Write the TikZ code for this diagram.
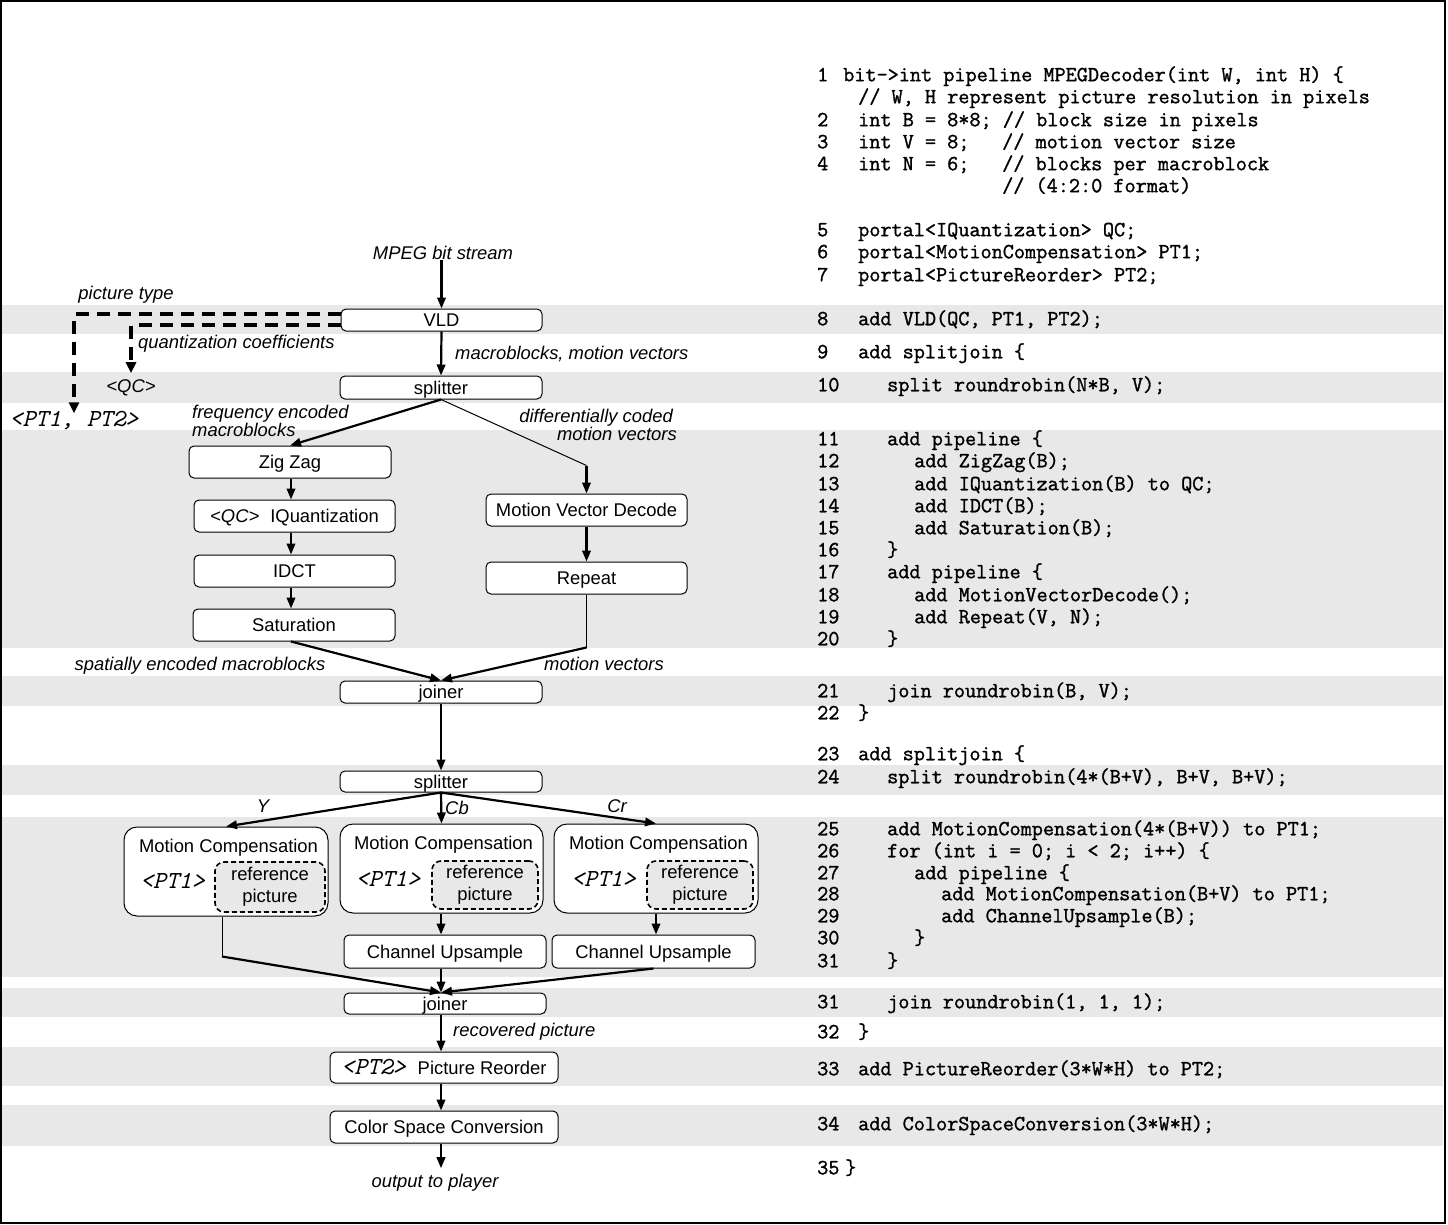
\documentclass[tikz,border=0pt]{standalone}
\usepackage{fontspec}
\setmainfont{Liberation Sans}
\newfontfamily\codefont{Latin Modern Mono}[FakeBold=1.3]
\usetikzlibrary{arrows.meta,calc}

\definecolor{band}{gray}{0.91}
\newcommand{\nf}{\fontsize{18.4}{22}\selectfont}
\newcommand{\cf}{\codefont\fontsize{21.6}{22}\selectfont}
\newcommand{\portal}{\ttfamily\itshape\fontsize{24.5}{24}\selectfont}

\tikzset{
  txt/.style={font=\nf, inner sep=0pt, text height=13.2pt, text depth=0pt},
  lbl/.style={txt, font=\nf\itshape},
  blk/.style={draw, line width=1pt, fill=white, rounded corners=5pt, inner sep=0pt,
              text height=13.2pt, text depth=0pt, font=\nf},
  mcbox/.style={draw, line width=1pt, fill=white, rounded corners=13pt, inner sep=0pt},
  refbox/.style={draw, line width=1.6pt, dash pattern=on 5pt off 3pt, fill=band,
                 rounded corners=9pt, inner sep=0pt, align=center, font=\nf},
  portaltxt/.style={inner sep=0pt, font=\portal, text height=13pt, text depth=0pt},
  code/.style={anchor=west, inner sep=0pt, font=\cf, text height=12.5pt, text depth=0pt},
  lno/.style={code},
  arr/.style={line width=2.2pt, -{Triangle[length=11pt,width=8.5pt]}},
  plain/.style={line width=1pt},
  ctl/.style={line width=4pt, dash pattern=on 13pt off 8pt,
              -{Triangle[length=11pt,width=10pt]}},
}

\begin{document}
\begin{tikzpicture}[x=1pt,y=-1pt]
\useasboundingbox (0,0) rectangle (1448,1225);

% shaded rows pairing each stage with its source line
\foreach \a/\b in {305/334, 372/403, 430/648, 676/706, 765/795, 817/977, 988/1017, 1047/1086, 1105/1146}
  \fill[band] (2,\a) rectangle (1443,\b);

% ---------------- source listing ----------------
\node[lno] (n1) at (817,75) {1};
\node[code] (l1) at (843,75) {bit->int pipeline MPEGDecoder(int W, int H) \{};
\node[code] (l1b) at (858,97) {// W, H represent picture resolution in pixels};
\node[lno] (n2) at (817,120) {2};
\node[code] (l2) at (858,120) {int B = 8*8; // block size in pixels};
\node[lno] (n3) at (817,142) {3};
\node[code] (l3) at (858,142) {int V = 8;};
\node[code] (l3c) at (1002,142) {// motion vector size};
\node[lno] (n4) at (817,164) {4};
\node[code] (l4) at (858,164) {int N = 6;};
\node[code] (l4c) at (1002,164) {// blocks per macroblock};
\node[code] (l4d) at (1002,186) {// (4:2:0 format)};
\node[lno] (n5) at (817,230) {5};
\node[code] (l5) at (858,230) {portal<IQuantization> QC;};
\node[lno] (n6) at (817,252) {6};
\node[code] (l6) at (858,252) {portal<MotionCompensation> PT1;};
\node[lno] (n7) at (817,275) {7};
\node[code] (l7) at (858,275) {portal<PictureReorder> PT2;};
\node[lno] (n8) at (817,319) {8};
\node[code] (l8) at (858,319) {add VLD(QC, PT1, PT2);};
\node[lno] (n9) at (817,352) {9};
\node[code] (l9) at (858,352) {add splitjoin \{};
\node[lno] (n10) at (817,385) {10};
\node[code] (l10) at (887,385) {split roundrobin(N*B, V);};
\node[lno] (n11) at (817,439) {11};
\node[code] (l11) at (887,439) {add pipeline \{};
\node[lno] (n12) at (817,461) {12};
\node[code] (l12) at (914,461) {add ZigZag(B);};
\node[lno] (n13) at (817,484) {13};
\node[code] (l13) at (914,484) {add IQuantization(B) to QC;};
\node[lno] (n14) at (817,506) {14};
\node[code] (l14) at (914,506) {add IDCT(B);};
\node[lno] (n15) at (817,528) {15};
\node[code] (l15) at (914,528) {add Saturation(B);};
\node[lno] (n16) at (817,550) {16};
\node[code] (l16) at (887,550) {\}};
\node[lno] (n17) at (817,572) {17};
\node[code] (l17) at (887,572) {add pipeline \{};
\node[lno] (n18) at (817,595) {18};
\node[code] (l18) at (914,595) {add MotionVectorDecode();};
\node[lno] (n19) at (817,617) {19};
\node[code] (l19) at (914,617) {add Repeat(V, N);};
\node[lno] (n20) at (817,639) {20};
\node[code] (l20) at (887,639) {\}};
\node[lno] (n21) at (817,691) {21};
\node[code] (l21) at (887,691) {join roundrobin(B, V);};
\node[lno] (n22) at (817,713) {22};
\node[code] (l22) at (858,713) {\}};
\node[lno] (n23) at (817,754) {23};
\node[code] (l23) at (858,754) {add splitjoin \{};
\node[lno] (n24) at (817,777) {24};
\node[code] (l24) at (887,777) {split roundrobin(4*(B+V), B+V, B+V);};
\node[lno] (n25) at (817,829) {25};
\node[code] (l25) at (887,829) {add MotionCompensation(4*(B+V)) to PT1;};
\node[lno] (n26) at (817,851) {26};
\node[code] (l26) at (887,851) {for (int i = 0; i < 2; i++) \{};
\node[lno] (n27) at (817,873) {27};
\node[code] (l27) at (914,873) {add pipeline \{};
\node[lno] (n28) at (817,894) {28};
\node[code] (l28) at (941,894) {add MotionCompensation(B+V) to PT1;};
\node[lno] (n29) at (817,916) {29};
\node[code] (l29) at (941,916) {add ChannelUpsample(B);};
\node[lno] (n30) at (817,938) {30};
\node[code] (l30) at (914,938) {\}};
\node[lno] (n31) at (817,961) {31};
\node[code] (l31) at (887,961) {\}};
\node[lno] (n31b) at (817,1002) {31};
\node[code] (l31b) at (887,1002) {join roundrobin(1, 1, 1);};
\node[lno] (n32) at (817,1032) {32};
\node[code] (l32) at (858,1032) {\}};
\node[lno] (n33) at (817,1069) {33};
\node[code] (l33) at (858,1069) {add PictureReorder(3*W*H) to PT2;};
\node[lno] (n34) at (817,1124) {34};
\node[code] (l34) at (858,1124) {add ColorSpaceConversion(3*W*H);};
\node[lno] (n35) at (817,1168) {35};
\node[code] (l35) at (845,1168) {\}};

% ---------------- stream graph ----------------
\coordinate (axis) at (441,0);
\coordinate (axisL) at (291,0);

\node[lbl] (mpeg) at (443,253) {MPEG bit stream};
\node[blk, minimum width=201pt, minimum height=22pt] (vld) at (441.5,320) {VLD};
\node[blk, minimum width=202pt, minimum height=23pt] (split1) at (441,387.5) {splitter};

\node[blk, minimum width=202pt, minimum height=32pt] (zigzag) at (290,462) {Zig Zag};
\node[blk, minimum width=201pt, minimum height=32pt] (iquant) at (294.5,516)
  {{\itshape <QC>}\hspace{11pt}IQuantization};
\node[blk, minimum width=201pt, minimum height=32pt] (idct) at (294.5,571) {IDCT};
\node[blk, minimum width=202pt, minimum height=32pt] (sat) at (294,625) {Saturation};
\node[blk, minimum width=201pt, minimum height=32pt] (mvd) at (586.5,510) {Motion Vector Decode};
\node[blk, minimum width=201pt, minimum height=32pt] (rep) at (586.5,578) {Repeat};

\node[blk, minimum width=202pt, minimum height=22pt] (join1) at (441,692) {joiner};
\node[blk, minimum width=202pt, minimum height=21pt] (split2) at (441,781.5) {splitter};

\node[mcbox, minimum width=204pt, minimum height=89pt] (mc1) at (226,871.5) {};
\node[mcbox, minimum width=203pt, minimum height=89pt] (mc2) at (441.5,868.5) {};
\node[mcbox, minimum width=204pt, minimum height=89pt] (mc3) at (656,868.5) {};
\node[txt] (mc1t) at (228.5,846) {Motion Compensation};
\node[txt] (mc2t) at (443.5,843) {Motion Compensation};
\node[txt] (mc3t) at (658.5,843) {Motion Compensation};
\node[portaltxt] (mc1p) at (172.5,882) {<PT1>};
\node[portaltxt] (mc2p) at (388,880) {<PT1>};
\node[portaltxt] (mc3p) at (603.5,880) {<PT1>};
\node[refbox, minimum width=110pt, minimum height=50pt] (ref1) at (270,887) {reference\\picture};
\node[refbox, minimum width=106pt, minimum height=48pt] (ref2) at (485,885) {reference\\picture};
\node[refbox, minimum width=106pt, minimum height=48pt] (ref3) at (700,885) {reference\\picture};

\node[blk, minimum width=202pt, minimum height=33pt] (cu1) at (445,951.5) {Channel Upsample};
\node[blk, minimum width=203pt, minimum height=33pt] (cu2) at (653.5,951.5) {Channel Upsample};
\node[blk, minimum width=202pt, minimum height=21pt] (join2) at (445,1003.5) {joiner};
\node[blk, minimum width=228pt, minimum height=31pt] (pr) at (444,1067.5)
  {{\portal <PT2>}\hspace{12pt}Picture Reorder};
\node[blk, minimum width=228pt, minimum height=32pt] (csc) at (444,1127) {Color Space Conversion};
\node[lbl] (out) at (435,1181) {output to player};

% labels
\node[lbl] (ptype) at (126,293) {picture type};
\node[lbl, anchor=west] (qcoef) at (138,342) {quantization coefficients};
\node[lbl] (qc) at (131,386) {<QC>};
\node[portaltxt] (pt12) at (74,420) {<PT1, PT2>};
\node[lbl, anchor=west] (mbmv) at (455,353) {macroblocks, motion vectors};
\node[lbl, anchor=west] (fe1) at (192,412) {frequency encoded};
\node[lbl, anchor=west] (fe2) at (192,430) {macroblocks};
\node[lbl, anchor=east] (dc1) at (673,416) {differentially coded};
\node[lbl, anchor=east] (dc2) at (677,434) {motion vectors};
\node[lbl] (sem) at (200,664) {spatially encoded macroblocks};
\node[lbl] (mv) at (604,664) {motion vectors};
\node[lbl] (ly) at (263,806) {Y};
\node[lbl] (lcb) at (457,808) {Cb};
\node[lbl] (lcr) at (617,806) {Cr};
\node[lbl, anchor=west] (recp) at (453,1030) {recovered picture};

% connectors
\draw[arr] (mpeg.south -| vld.north) -- (vld.north);
\draw[arr] (vld.south) -- (split1.north);

\draw[ctl] ($(vld.west)+(0,-6)$) -| (pt12.north);
\draw[ctl, shorten >=6pt] ($(vld.west)+(0,5)$) -| (qc.north);

\draw[arr] (split1.south) -- (zigzag.north);
\coordinate (bendA) at ($(mvd.north)+(0,-28)$);
\draw[plain] (split1.south) -- (bendA);
\draw[arr] (bendA) -- (mvd.north);

\draw[arr] (zigzag.south -| axisL) -- (iquant.north -| axisL);
\draw[arr] (iquant.south -| axisL) -- (idct.north -| axisL);
\draw[arr] (idct.south -| axisL) -- (sat.north -| axisL);
\draw[arr] (mvd.south) -- (rep.north);

\draw[arr] (sat.south -| axisL) -- (join1.north);
\coordinate (bendB) at ($(rep.south)+(0,53)$);
\draw[plain] (rep.south) -- (bendB);
\draw[arr] (bendB) -- (join1.north);

\draw[arr] (join1.south) -- (split2.north);
\draw[arr] (split2.south) -- (mc1.north);
\draw[arr] (split2.south) -- (mc2.north);
\draw[arr] (split2.south) -- (mc3.north);

\draw[arr] (mc2.south -| axis) -- (cu1.north -| axis);
\draw[arr] (mc3.south) -- (mc3.south |- cu2.north);

\coordinate (mc1o) at ($(mc1.south)+(-4,0)$);
\coordinate (bendC) at ($(mc1o)+(0,40)$);
\draw[plain] (mc1o) -- (bendC);
\draw[arr] (bendC) -- (join2.north -| axis);
\draw[arr] (cu1.south -| axis) -- (join2.north -| axis);
\draw[arr] (cu2.south) -- (join2.north -| axis);

\draw[arr] (join2.south -| axis) -- (pr.north -| axis);
\draw[arr] (pr.south -| axis) -- (csc.north -| axis);
\draw[arr, shorten >=6pt] (csc.south -| axis) -- (out.north -| axis);

% outer frame
\draw[line width=2pt] (1,1) rectangle (1444.5,1222.5);
\end{tikzpicture}
\end{document}
